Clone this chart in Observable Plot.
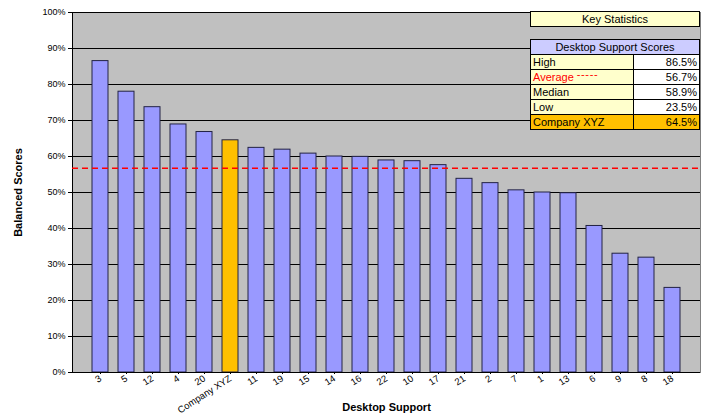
<!DOCTYPE html>
<html>
<head>
<meta charset="utf-8">
<script src="https://cdn.jsdelivr.net/npm/d3@7"></script>
<script src="https://cdn.jsdelivr.net/npm/@observablehq/plot@0.6"></script>
<style>
  html, body { margin: 0; padding: 0; background: #fff; }
  #wrap { position: relative; width: 721px; height: 415px; font-family: "Liberation Sans", Arial, sans-serif; }
  .keystats { position: absolute; left: 530px; top: 11px; width: 168px; height: 14px; border: 1px solid #000;
    background: #FFFFCC; font-size: 11px; line-height: 14px; text-align: center; color: #000; }
  table.stats { position: absolute; left: 530px; top: 39px; width: 170px; border-collapse: collapse;
    font-size: 11px; color: #000; }
  table.stats td, table.stats th { border: 1px solid #000; padding: 0 2px; height: 14px; line-height: 13px; white-space: nowrap; }
  table.stats th { background: #CCCCFF; font-weight: normal; text-align: center; }
  table.stats td.lab { background: #FFFFCC; width: 98px; text-align: left; }
  table.stats td.val { background: #FFFFFF; text-align: right; }
  table.stats tr.co td { background: #FFC000; }
  .red { color: #FF0000; }
  .dash { color: #FF0000; font-size: 11px; position: relative; top: -3px; letter-spacing: 0.6px; }
</style>
</head>
<body>
<div id="wrap"></div>
<script>
const categories = ["3","5","12","4","20","Company XYZ","11","19","15","14","16","22","10","17","21","2","7","1","13","6","9","8","18"];
const scores = [0.865,0.780,0.737,0.689,0.668,0.645,0.624,0.619,0.608,0.600,0.599,0.589,0.587,0.576,0.538,0.526,0.506,0.500,0.498,0.407,0.330,0.319,0.235];
const highlight = "Company XYZ";
const yTicks = [0,0.1,0.2,0.3,0.4,0.5,0.6,0.7,0.8,0.9,1.0];

const data = categories.map((c, i) => ({cat: c, score: scores[i]}));
const avg = d3.mean(scores);
const stats = [
  ["High", d3.max(scores)],
  ["Average", avg],
  ["Median", d3.median(scores)],
  ["Low", d3.min(scores)],
  [highlight, scores[categories.indexOf(highlight)]]
];
const pct = d => (d * 100).toFixed(1) + "%";

const chart = Plot.plot({
  width: 721,
  height: 415,
  marginLeft: 72,
  marginRight: 21,
  marginTop: 12,
  marginBottom: 43,
  style: {fontFamily: "'Liberation Sans', Arial, sans-serif", fontSize: "9px", background: "white", color: "#000", overflow: "visible"},
  x: {domain: categories, paddingInner: 0.4, paddingOuter: 0.7},
  y: {domain: [0, 1]},
  marks: [
    Plot.frame({fill: "#C0C0C0"}),
    Plot.gridY(yTicks, {stroke: "#000", strokeOpacity: 1, strokeWidth: 1}),
    Plot.frame({anchor: "right", stroke: "#808080"}),
    Plot.frame({anchor: "left", stroke: "#000"}),
    Plot.barY(data, {x: "cat", y: "score", fill: d => d.cat === highlight ? "#FFC000" : "#9999FF", stroke: "#222244", strokeWidth: 1}),
    Plot.ruleY([avg], {stroke: "#FF0000", strokeDasharray: "6,4", strokeWidth: 1.5}),
    Plot.ruleY([0], {stroke: "#000", strokeWidth: 1}),
    Plot.axisY({ticks: yTicks, tickSize: 4, tickPadding: 3, fontSize: 9, tickFormat: d => Math.round(d * 100) + "%",
      label: "Balanced Scores", labelAnchor: "center", labelOffset: 58, labelArrow: "none"}),
    Plot.axisX({tickSize: 2, tickRotate: -33, tickPadding: 3, fontSize: 9.5,
      label: "Desktop Support", labelAnchor: "center", labelOffset: 38, labelArrow: "none"})
  ]
});
chart.querySelectorAll('[aria-label$="axis label"]').forEach(g => {
  g.setAttribute("font-weight", "bold");
  g.setAttribute("font-size", "11");
});
const wrap = document.getElementById("wrap");
wrap.appendChild(chart);

const ks = document.createElement("div");
ks.className = "keystats";
ks.textContent = "Key Statistics";
wrap.appendChild(ks);

const table = document.createElement("table");
table.className = "stats";
let html = '<tr><th colspan="2">Desktop Support Scores</th></tr>';
stats.forEach(([k, v]) => {
  const cls = k === highlight ? ' class="co"' : '';
  const label = k === "Average" ? '<span class="red">Average</span> <span class="dash">-----</span>' : k;
  html += `<tr${cls}><td class="lab">${label}</td><td class="val">${pct(v)}</td></tr>`;
});
table.innerHTML = html;
wrap.appendChild(table);
</script>
</body>
</html>
